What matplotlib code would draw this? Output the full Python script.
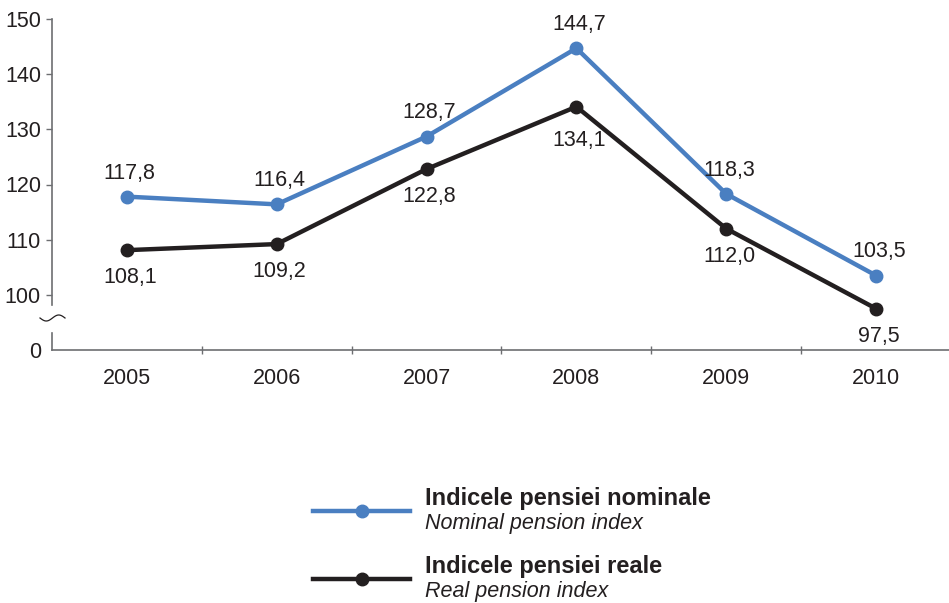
import numpy as np
import matplotlib.pyplot as plt
from matplotlib.lines import Line2D

years = ["2005", "2006", "2007", "2008", "2009", "2010"]
nominal = [117.8, 116.4, 128.7, 144.7, 118.3, 103.5]
real = [108.1, 109.2, 122.8, 134.1, 112.0, 97.5]
ytick_vals = [90, 100, 110, 120, 130, 140, 150]
ytick_labels = ["0", "100", "110", "120", "130", "140", "150"]

blue = "#4a7fc1"
dark = "#231f20"
axcol = "#6d6e71"

plt.rcParams['font.family'] = ['Liberation Sans', 'DejaVu Sans']

fig = plt.figure(figsize=(9.49, 6.03), dpi=100)
W, H = 949, 603
ax = fig.add_axes([52 / W, 1 - 350 / H, (949 - 52) / W, (350 - 19) / H])

x = np.arange(len(years))
ax.plot(x, nominal, color=blue, lw=3.2, marker='o', ms=9, zorder=3, clip_on=False)
ax.plot(x, real, color=dark, lw=3.2, marker='o', ms=9, zorder=3, clip_on=False)

for xi, v in zip(x, nominal):
    ax.annotate(f"{v:.1f}".replace(".", ","), (xi, v), xytext=(2, 17),
                textcoords='offset points', ha='center', va='center',
                fontsize=15.5, color=dark)
for xi, v in zip(x, real):
    dy = -24 if xi == 3 else -20
    ax.annotate(f"{v:.1f}".replace(".", ","), (xi, v), xytext=(2, dy),
                textcoords='offset points', ha='center', va='center',
                fontsize=15.5, color=dark)

ax.set_xlim(-0.5, 5.487)
ax.set_ylim(90, 150)
ax.set_xticks(x)
ax.set_xticklabels(years)
ax.set_xticks(np.arange(0.5, 5.0, 1.0), minor=True)
ax.tick_params(axis='x', which='major', length=0, pad=13, labelsize=15.5, labelcolor=dark)
ax.tick_params(axis='x', which='minor', direction='inout', length=6, width=1, color=axcol)
ax.set_yticks(ytick_vals)
ax.set_yticklabels(ytick_labels)
ax.tick_params(axis='y', length=4, width=1, color=axcol, pad=4, labelsize=15.5, labelcolor=dark)
ax.yaxis.get_major_ticks()[0].tick1line.set_visible(False)

for s in ['top', 'right']:
    ax.spines[s].set_visible(False)
ax.spines['bottom'].set_color(axcol)
ax.spines['left'].set_color(axcol)
ax.spines['bottom'].set_linewidth(1.2)
ax.spines['left'].set_linewidth(1.2)
ax.spines['left'].set_bounds(98.2, 150)

# lower stub of broken axis
ytr = ax.get_yaxis_transform()
ax.plot([0, 0], [90, 93.1], color=axcol, lw=1.2, transform=ytr, clip_on=False)
# break symbol
t = np.linspace(0, 1, 50)
bx = (40 + 25 * t) / W
by = 1 - (318 + 3 * np.sin(2 * np.pi * t)) / H
fig.add_artist(Line2D(bx, by, color=dark, lw=0.9))

# legend
entries = [
    (blue, "Indicele pensiei nominale", "Nominal pension index", 511),
    (dark, "Indicele pensiei reale", "Real pension index", 579),
]
for col, ro, en, yy in entries:
    fy = 1 - yy / H
    fig.add_artist(Line2D([313 / W, 410 / W], [fy, fy], color=col, lw=3.2))
    fig.add_artist(Line2D([362 / W], [fy], color=col, marker='o', ms=9))
    fig.text(425 / W, 1 - (yy - 12) / H, ro, fontsize=17, fontweight='bold',
             color=dark, va='center', ha='left')
    fig.text(425 / W, 1 - (yy + 12) / H, en, fontsize=15.5, fontstyle='italic',
             color=dark, va='center', ha='left')

fig.savefig("out.png", dpi=100)
